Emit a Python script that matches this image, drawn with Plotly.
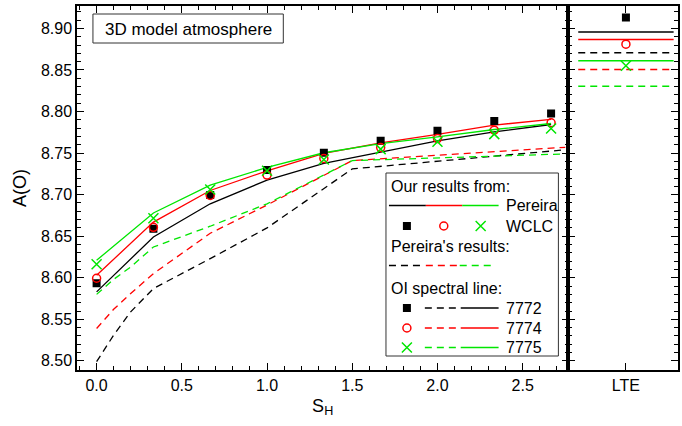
import plotly.graph_objects as go

# ---------------- data ----------------
S_H = [0, 1/3, 2/3, 1, 4/3, 5/3, 2, 7/3, 8/3]
LINES = ["7772", "7774", "7775"]
COLORS = ["#000000", "#ff0000", "#00e600"]

# Our results from Pereira atomic data (solid lines)
our_pereira_7772 = [8.583, 8.649, 8.689, 8.7175, 8.7375, 8.7516, 8.7648, 8.7756, 8.7844]
our_pereira_7774 = [8.603, 8.667, 8.705, 8.7287, 8.7496, 8.7624, 8.7724, 8.7837, 8.7905]
our_pereira_7775 = [8.621, 8.678, 8.7115, 8.7327, 8.7504, 8.7615, 8.7696, 8.7784, 8.7856]

# Our results from WCLC (markers)
our_wclc_7772 = [8.5934, 8.659, 8.6995, 8.7296, 8.7504, 8.7648, 8.7768, 8.7885, 8.7977]
our_wclc_7774 = [8.5994, 8.6607, 8.699, 8.7236, 8.7435, 8.7567, 8.7675, 8.7776, 8.7864]
our_wclc_7775 = [8.6162, 8.6715, 8.7062, 8.7287, 8.7424, 8.7548, 8.7636, 8.7728, 8.7796]

# Pereira's results (dashed lines)
S_H_pereira = [0, 0.1, 0.2, 1/3, 2/3, 1, 1.5, 2.75]
pereira_7772 = [8.499, 8.531, 8.559, 8.587, 8.623, 8.660, 8.731, 8.754]
pereira_7774 = [8.539, 8.562, 8.581, 8.605, 8.6535, 8.6875, 8.741, 8.757]
pereira_7775 = [8.580, 8.598, 8.613, 8.637, 8.662, 8.689, 8.741, 8.749]

# LTE values
LTE_X = [-0.435, 0.435]
lte_our_pereira = [8.8958, 8.8866, 8.861]
lte_our_wclc = [8.9131, 8.881, 8.855]
lte_pereira = [8.8706, 8.8506, 8.8305]

X_TICKS = [0, 0.5, 1.0, 1.5, 2.0, 2.5]
LTE_LABEL = "LTE"

# ---------------- styles ----------------
FONT = "Arial, 'Liberation Sans', sans-serif"
DASH = "7px,5px"
MARKERS = [dict(symbol="square", size=8, color="#000000", line=dict(width=0)),
           dict(symbol="circle-open", size=8, color="#ff0000", line=dict(width=1.5, color="#ff0000")),
           dict(symbol="x-thin-open", size=10, color="#00e600", line=dict(width=1.5, color="#00e600"))]

fig = go.Figure()

our_p = [our_pereira_7772, our_pereira_7774, our_pereira_7775]
our_w = [our_wclc_7772, our_wclc_7774, our_wclc_7775]
per = [pereira_7772, pereira_7774, pereira_7775]

for i in range(3):
    fig.add_trace(go.Scatter(x=S_H_pereira, y=per[i], mode="lines",
                             line=dict(color=COLORS[i], width=1.3, dash=DASH),
                             showlegend=False, xaxis="x", yaxis="y"))
for i in range(3):
    fig.add_trace(go.Scatter(x=S_H, y=our_p[i], mode="lines",
                             line=dict(color=COLORS[i], width=1.3),
                             showlegend=False, xaxis="x", yaxis="y"))
for i in range(3):
    fig.add_trace(go.Scatter(x=S_H, y=our_w[i], mode="markers",
                             marker=MARKERS[i], showlegend=False, xaxis="x", yaxis="y"))

# LTE panel
for i in range(3):
    fig.add_trace(go.Scatter(x=LTE_X, y=[lte_our_pereira[i]] * 2, mode="lines",
                             line=dict(color=COLORS[i], width=1.5),
                             showlegend=False, xaxis="x2", yaxis="y2"))
    fig.add_trace(go.Scatter(x=LTE_X, y=[lte_pereira[i]] * 2, mode="lines",
                             line=dict(color=COLORS[i], width=1.5, dash=DASH),
                             showlegend=False, xaxis="x2", yaxis="y2"))
    fig.add_trace(go.Scatter(x=[0], y=[lte_our_wclc[i]], mode="markers",
                             marker=MARKERS[i], showlegend=False, xaxis="x2", yaxis="y2"))

# ---------------- custom legend (pixel-space overlay axes) ----------------
W, H = 682, 426
L, R, T, B = 77, 2, 6, 56
LEG = dict(box=(387, 173, 560, 356), text_x=390, label_x=505,
           rows=dict(title1=186.5, pereira=205.5, wclc=226, title2=246.5, dashed=265.5,
                     title3=288.5, r0=308, r1=328, r2=347.5),
           mk_x=[408, 445, 482], seg3=[(390, 427), (427, 463.5), (463.5, 500)],
           dseg3=[(390, 425), (427, 459), (461, 494)],
           line_mk_x=408, dash_seg=(426, 462), solid_seg=(462, 500))

shapes = []
annots = []
x0, y0, x1, y1 = LEG["box"]
shapes.append(dict(type="rect", xref="x3", yref="y3", x0=x0, y0=y0, x1=x1, y1=y1,
                   line=dict(color="#333333", width=1), fillcolor="white", layer="below"))
rows = LEG["rows"]

def txt(x, y, s, size=16):
    annots.append(dict(xref="x3", yref="y3", x=x, y=y, text=s, showarrow=False,
                       xanchor="left", yanchor="middle", font=dict(size=size, color="black", family=FONT)))

txt(LEG["text_x"], rows["title1"], "Our results from:")
for i, (a, b) in enumerate(LEG["seg3"]):
    shapes.append(dict(type="line", xref="x3", yref="y3", x0=a, x1=b, y0=rows["pereira"], y1=rows["pereira"],
                       line=dict(color=COLORS[i], width=1.5), layer="above"))
txt(LEG["label_x"], rows["pereira"], "Pereira")
txt(LEG["label_x"], rows["wclc"], "WCLC")
txt(LEG["text_x"], rows["title2"], "Pereira's results:")
for i, (a, b) in enumerate(LEG["dseg3"]):
    shapes.append(dict(type="line", xref="x3", yref="y3", x0=a, x1=b, y0=rows["dashed"], y1=rows["dashed"],
                       line=dict(color=COLORS[i], width=1.5, dash=DASH), layer="above"))
txt(LEG["text_x"], rows["title3"], "OI spectral line:")
for i, key in enumerate(["r0", "r1", "r2"]):
    yy = rows[key]
    shapes.append(dict(type="line", xref="x3", yref="y3", x0=LEG["dash_seg"][0], x1=LEG["dash_seg"][1],
                       y0=yy, y1=yy, line=dict(color=COLORS[i], width=1.5, dash=DASH), layer="above"))
    shapes.append(dict(type="line", xref="x3", yref="y3", x0=LEG["solid_seg"][0], x1=LEG["solid_seg"][1],
                       y0=yy, y1=yy, line=dict(color=COLORS[i], width=1.5), layer="above"))
    txt(LEG["label_x"], yy, LINES[i])

# legend markers
leg_mx = LEG["mk_x"] + [LEG["line_mk_x"]] * 3
leg_my = [rows["wclc"]] * 3 + [rows["r0"], rows["r1"], rows["r2"]]
for j in range(6):
    fig.add_trace(go.Scatter(x=[leg_mx[j]], y=[leg_my[j]], mode="markers", marker=MARKERS[j % 3],
                             showlegend=False, xaxis="x3", yaxis="y3", hoverinfo="skip"))

# "3D model atmosphere" box
shapes.append(dict(type="rect", xref="x3", yref="y3", x0=93, y0=14, x1=284, y1=43,
                   line=dict(color="#333333", width=1), fillcolor="white", layer="below"))
annots.append(dict(xref="x3", yref="y3", x=188.5, y=29, text="3D model atmosphere", showarrow=False,
                   xanchor="center", yanchor="middle", font=dict(size=17, color="black", family=FONT)))

# ---------------- axes ----------------
split = (570 - L) / (W - L - R)
axis_common = dict(showline=True, linecolor="black", linewidth=1.5, mirror="allticks",
                   ticks="inside", ticklen=7, tickwidth=1.3, tickcolor="black",
                   showgrid=False, zeroline=False,
                   tickfont=dict(size=16, color="black", family=FONT))
YR = [8.489, 8.927]

fig.update_layout(
    width=W, height=H,
    margin=dict(l=L, r=R, t=T, b=B, pad=0),
    paper_bgcolor="white", plot_bgcolor="rgba(0,0,0,0)",
    font=dict(family=FONT, color="black"),
    showlegend=False,
    xaxis=dict(domain=[0, split], range=[-0.115, 2.768], tickvals=X_TICKS, tickformat=".1f",
               anchor="y",
               minor=dict(dtick=0.1, tick0=0, ticks="inside", ticklen=4, tickwidth=1, tickcolor="black"),
               title=dict(text="S<sub>H</sub>", font=dict(size=18, family=FONT, color="black"), standoff=6),
               **axis_common),
    yaxis=dict(domain=[0, 1], range=YR, dtick=0.05, tick0=8.5, tickformat=".2f", anchor="x",
               minor=dict(dtick=0.01, tick0=8.5, ticks="inside", ticklen=4, tickwidth=1, tickcolor="black"),
               title=dict(text="A(O)", font=dict(size=18, family=FONT, color="black"), standoff=10),
               **axis_common),
    xaxis2=dict(domain=[split, 1], range=[-0.525, 0.475], tickvals=[0], ticktext=[LTE_LABEL],
                anchor="y2", **axis_common),
    yaxis2=dict(domain=[0, 1], range=YR, dtick=0.05, tick0=8.5, anchor="x2", showticklabels=False,
                minor=dict(dtick=0.01, tick0=8.5, ticks="inside", ticklen=4, tickwidth=1, tickcolor="black"),
                **axis_common),
    xaxis3=dict(domain=[0, 1], range=[L, W - R], visible=False, anchor="y3", fixedrange=True),
    yaxis3=dict(domain=[0, 1], range=[H - B, T], visible=False, anchor="x3", fixedrange=True),
    shapes=shapes, annotations=annots,
)

fig.write_html("out.html", config={"displayModeBar": False},
               post_script="document.body.style.margin='0';document.body.style.overflow='hidden';")
